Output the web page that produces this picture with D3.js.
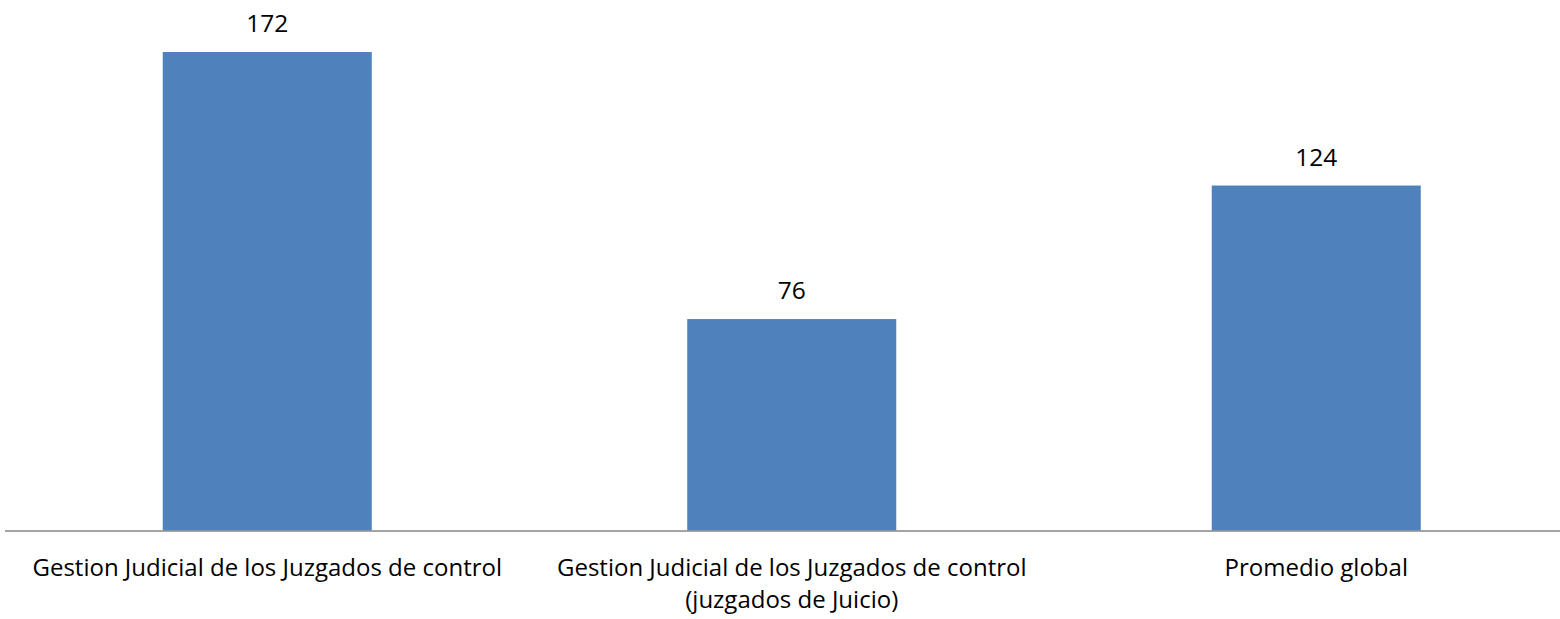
<!DOCTYPE html>
<html>
<head>
<meta charset="utf-8">
<script src="https://cdn.jsdelivr.net/npm/d3@7"></script>
<style>
  html, body { margin: 0; padding: 0; background: #fff; }
  svg { display: block; }
  text { font-family: "Open Sans", "Noto Sans", sans-serif; fill: #000; }
</style>
</head>
<body>
<svg id="chart" width="1560" height="619"></svg>
<script>
const categories = [
  ["Gestion Judicial de los Juzgados de control"],
  ["Gestion Judicial de los Juzgados de control", "(juzgados de Juicio)"],
  ["Promedio global"]
];
const values = [172, 76, 124];

const W = 1560, H = 619;
const svg = d3.select("#chart");

const x = d3.scaleBand()
  .domain(d3.range(categories.length))
  .range([5, 1578.5])
  .padding(0);

const y = d3.scaleLinear()
  .domain([0, 172])
  .range([530.5, 52]);

const barFrac = 0.3985;
const bw = x.bandwidth() * barFrac;

svg.selectAll("rect.bar")
  .data(values)
  .enter().append("rect")
  .attr("class", "bar")
  .attr("x", (d, i) => x(i) + (x.bandwidth() - bw) / 2)
  .attr("y", d => y(d))
  .attr("width", bw)
  .attr("height", d => y(0) - y(d))
  .attr("fill", "#4F81BD");

// axis line
svg.append("line")
  .attr("x1", x.range()[0]).attr("x2", W)
  .attr("y1", y(0) + 0.5).attr("y2", y(0) + 0.5)
  .attr("stroke", "#868686").attr("stroke-width", 1.5);

// value labels
svg.selectAll("text.val")
  .data(values)
  .enter().append("text")
  .attr("class", "val")
  .attr("x", (d, i) => x(i) + x.bandwidth() / 2)
  .attr("y", d => y(d) - 20)
  .attr("text-anchor", "middle")
  .style("font-size", "24.5px")
  .text(d => d);

// category labels (one text element per line)
const lineH = 32;
categories.forEach((lines, i) => {
  lines.forEach((ln, k) => {
    svg.append("text")
      .attr("class", "cat")
      .attr("x", x(i) + x.bandwidth() / 2)
      .attr("y", 576 + k * lineH)
      .attr("text-anchor", "middle")
      .style("font-size", "24px")
      .text(ln);
  });
});
</script>
</body>
</html>
